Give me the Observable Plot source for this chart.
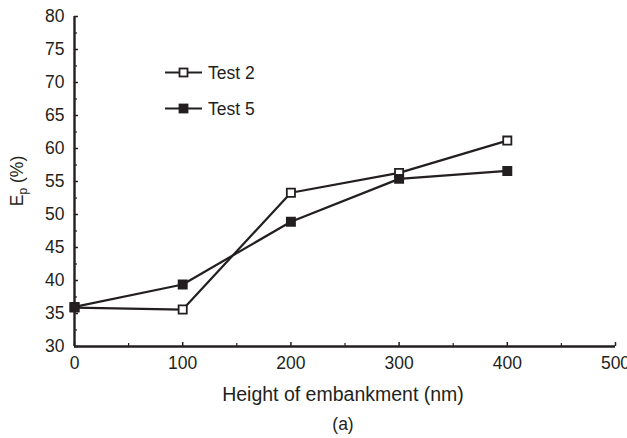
<!DOCTYPE html>
<html><head><meta charset="utf-8">
<script src="https://cdn.jsdelivr.net/npm/d3@7"></script>
<script src="https://cdn.jsdelivr.net/npm/@observablehq/plot@0.6"></script>
<style>
body{margin:0;background:#fff;font-family:"Liberation Sans",Arial,sans-serif;color:#231f20}
#wrap{position:relative;width:627px;height:438px}
#ylab{position:absolute;left:19px;top:181px;transform:translate(-50%,-50%) rotate(-90deg);font-size:17.5px;white-space:nowrap;color:#231f20;line-height:1}
#ylab sub{font-size:12px}
</style></head><body>
<div id="wrap"><div id="ylab">E<sub>p</sub> (%)</div></div>
<script>
const heights = [0, 100, 200, 300, 400];
const test2 = [35.9, 35.6, 53.3, 56.3, 61.2];
const test5 = [36.0, 39.4, 48.9, 55.4, 56.6];
const seriesNames = ["Test 2", "Test 5"];
const xTitle = "Height of embankment (nm)";
const caption = "(a)";
const xTicks = [0, 100, 200, 300, 400, 500];
const xMinor = [50, 150, 250, 350, 450];
const yTicks = [30, 35, 40, 45, 50, 55, 60, 65, 70, 75, 80];
const yMinor = [32.5, 37.5, 42.5, 47.5, 52.5, 57.5, 62.5, 67.5, 72.5, 77.5];

const ink = "#231f20";
const rows = [];
heights.forEach((h, i) => {
  rows.push({series: seriesNames[0], x: h, y: test2[i]});
  rows.push({series: seriesNames[1], x: h, y: test5[i]});
});

const chart = Plot.plot({
  width: 627, height: 438,
  marginTop: 16, marginLeft: 74, marginRight: 12, marginBottom: 92,
  style: {fontFamily: "Liberation Sans, Arial, sans-serif", fontSize: "17.5px", color: ink, background: "white", overflow: "visible"},
  x: {domain: [0, 500]},
  y: {domain: [30, 80]},
  marks: [
    Plot.axisY({ticks: yTicks, tickSize: -4, tickPadding: 14, label: null, strokeWidth: 1.5, fontSize: 17.5, fill: ink}),
    Plot.axisY({ticks: yMinor, tickSize: -3, tickFormat: () => "", label: null, strokeWidth: 1.2}),
    Plot.axisX({ticks: xTicks, tickSize: -4, tickPadding: 14, label: null, strokeWidth: 1.5, fontSize: 17.5, fill: ink}),
    Plot.axisX({ticks: xMinor, tickSize: -3, tickFormat: () => "", label: null, strokeWidth: 1.2}),
    Plot.text([xTitle], {frameAnchor: "bottom", lineAnchor: "middle", dy: 48, dx: -2, fontSize: 19.5, fill: ink}),
    Plot.text([caption], {frameAnchor: "bottom", lineAnchor: "middle", dy: 78, dx: -2, fontSize: 17.5, fill: ink}),
    Plot.ruleX([0], {stroke: ink, strokeWidth: 2.4}),
    Plot.ruleY([30], {stroke: ink, strokeWidth: 2.4}),
    Plot.line(rows, {x: "x", y: "y", z: "series", stroke: ink, strokeWidth: 2.2}),
    Plot.dot(rows, {x: "x", y: "y", symbol: "square", r: 4.6, stroke: ink, strokeWidth: 1.8,
      fill: d => d.series === seriesNames[0] ? "white" : ink})
  ]
});
chart.style.position = "absolute";
chart.style.left = "0"; chart.style.top = "0";
const wrap = document.getElementById("wrap");
wrap.insertBefore(chart, wrap.firstChild);

// legend
const ns = "http://www.w3.org/2000/svg";
const lg = document.createElementNS(ns, "svg");
lg.setAttribute("width", 300); lg.setAttribute("height", 130);
lg.style.position = "absolute"; lg.style.left = "0"; lg.style.top = "0";
const entries = [{name: seriesNames[0], fill: "white", cy: 72.5}, {name: seriesNames[1], fill: ink, cy: 108.5}];
for (const e of entries) {
  const l = document.createElementNS(ns, "line");
  l.setAttribute("x1", 165); l.setAttribute("x2", 202);
  l.setAttribute("y1", e.cy); l.setAttribute("y2", e.cy);
  l.setAttribute("stroke", ink); l.setAttribute("stroke-width", 2.2);
  lg.appendChild(l);
  const r = document.createElementNS(ns, "rect");
  r.setAttribute("x", 183.5 - 4); r.setAttribute("y", e.cy - 4);
  r.setAttribute("width", 8); r.setAttribute("height", 8);
  r.setAttribute("fill", e.fill); r.setAttribute("stroke", ink); r.setAttribute("stroke-width", 1.8);
  lg.appendChild(r);
  const t = document.createElementNS(ns, "text");
  t.setAttribute("x", 208); t.setAttribute("y", e.cy + 6);
  t.setAttribute("font-size", 17.5); t.setAttribute("fill", ink);
  t.setAttribute("font-family", "Liberation Sans, Arial, sans-serif");
  t.textContent = e.name;
  lg.appendChild(t);
}
wrap.appendChild(lg);
</script>
</body></html>
